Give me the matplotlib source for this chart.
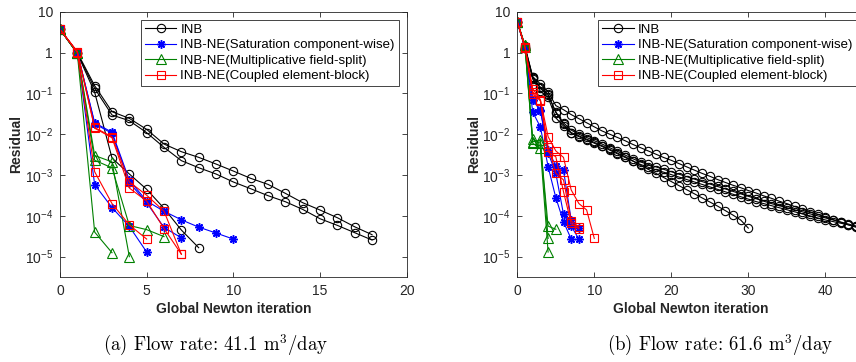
import matplotlib
matplotlib.use('Agg')
import matplotlib.pyplot as plt
from matplotlib.ticker import FuncFormatter, FixedLocator, NullLocator
import numpy as np

plt.rcParams['font.family'] = ['Liberation Sans', 'DejaVu Sans']
plt.rcParams['mathtext.fontset'] = 'custom'
plt.rcParams['mathtext.rm'] = 'Liberation Sans'
plt.rcParams['mathtext.it'] = 'Liberation Sans:italic'
plt.rcParams['mathtext.bf'] = 'Liberation Sans:bold'

labels = ['INB', 'INB-NE(Saturation component-wise)',
          'INB-NE(Multiplicative field-split)', 'INB-NE(Coupled element-block)']

# ---- (a) flow rate 41.1 m3/day : residual per global Newton iteration ----
inb_a = [
    [3.7, 1.0, 0.154, 0.0356, 0.0244, 0.0131, 0.00574, 0.00373, 0.00271, 0.00186,
     0.00125, 8.3e-4, 5.9e-4, 3.56e-4, 2.1e-4, 1.39e-4, 9.0e-5, 5.4e-5, 3.46e-5],
    [3.7, 0.97, 0.132, 0.0295, 0.0214, 0.0109, 0.00476, 0.00225, 0.00151, 0.00106,
     6.75e-4, 4.62e-4, 3.12e-4, 2.22e-4, 1.44e-4, 8.5e-5, 5.85e-5, 3.87e-5, 2.56e-5],
    [3.7, 0.95, 0.106, 0.00261, 0.00106, 4.46e-4, 1.53e-4, 4.5e-5, 1.66e-5],
]
sat_a = [
    [3.7, 1.0, 0.019, 0.0112, 7.5e-4, 2.3e-4, 1.3e-4, 8.0e-5, 5.3e-5, 3.8e-5, 2.7e-5],
    [3.7, 1.0, 5.8e-4, 1.6e-4, 5.5e-5, 1.3e-5],
    [3.7, 1.0, 0.018, 0.0105, 6.5e-4, 2.1e-4, 5.2e-5, 2.9e-5],
]
mfs_a = [
    [3.7, 1.0, 0.0030, 0.0021, 1.0e-5],
    [3.7, 0.95, 0.0023, 0.0015, 5.8e-5, 4.6e-5, 3.1e-5],
    [3.7, 0.95, 4.0e-5, 1.25e-5],
]
ceb_a = [
    [3.7, 1.05, 0.0146, 0.0086, 6.8e-4, 3.2e-4, 1.3e-4, 1.15e-5],
    [3.7, 1.05, 0.0140, 0.0082, 4.8e-4, 2.3e-4, 4.9e-5, 1.15e-5],
    [3.7, 1.0, 1.2e-3, 2.0e-4, 6.0e-5, 2.7e-5],
]

# ---- (b) flow rate 61.6 m3/day ----
# long INB runs read as log10(residual) from the log axis
inb_b_log = [
    [0.755, 0.15, -0.59, -0.77, -0.96, -1.30, -1.40, -1.52, -1.62, -1.72, -1.82,
     -1.92, -2.00, -2.08, -2.16, -2.25, -2.33, -2.41, -2.49, -2.57, -2.64, -2.72,
     -2.80, -2.88, -2.96, -3.03, -3.11, -3.18, -3.25, -3.31, -3.38, -3.44, -3.51,
     -3.57, -3.64, -3.70, -3.77, -3.83, -3.90, -3.96, -4.03, -4.09, -4.16, -4.22, -4.28],
    [0.755, 0.12, -0.62, -0.85, -1.02, -1.47, -1.72, -1.90, -2.00, -2.08, -2.16,
     -2.24, -2.33, -2.42, -2.51, -2.60, -2.68, -2.74, -2.80, -2.86, -2.92, -2.98,
     -3.04, -3.10, -3.16, -3.22, -3.28, -3.34, -3.40, -3.46, -3.52, -3.58, -3.64,
     -3.70, -3.75, -3.80, -3.85, -3.90, -3.95, -4.00, -4.05, -4.10, -4.15, -4.20, -4.25],
    [0.755, 0.10, -0.65, -0.95, -1.10, -1.60, -1.80, -1.98, -2.06, -2.14, -2.22,
     -2.30, -2.39, -2.48, -2.57, -2.66, -2.74, -2.81, -2.87, -2.93, -2.99, -3.05,
     -3.11, -3.17, -3.23, -3.29, -3.35, -3.41, -3.47, -3.53, -3.59, -3.65, -3.70,
     -3.75, -3.80, -3.85, -3.90, -3.95, -4.00, -4.05, -4.10, -4.14, -4.18, -4.22, -4.26],
    [0.755, 0.12, -0.60, -0.88, -1.05, -1.45, -1.76, -1.96, -2.04, -2.12, -2.20,
     -2.28, -2.37, -2.46, -2.55, -2.65, -2.76, -2.86, -2.96, -3.06, -3.16, -3.26,
     -3.36, -3.46, -3.56, -3.66, -3.76, -3.87, -3.98, -4.10, -4.30],
]
sat_b = [
    [5.7, 1.3, 0.035, 0.015, 0.0016, 2.8e-4, 7.2e-5, 2.7e-5],
    [5.7, 1.4, 0.07, 0.04, 0.0035, 0.0011, 1.1e-4, 5.6e-5, 2.7e-5],
    [5.7, 1.4, 0.068, 0.038, 0.004, 0.0017, 0.0013, 8.0e-5, 5.0e-5],
]
mfs_b = [
    [5.7, 1.5, 0.0075, 0.0060, 5.6e-5, 4.7e-5],
    [5.7, 1.5, 0.0065, 0.0072, 2.8e-5],
    [5.7, 1.4, 0.0060, 0.0045, 1.3e-5],
]
ceb_b = [
    [5.7, 1.4, 0.13, 0.07, 0.0087, 0.0039, 0.0027, 4.3e-4, 2.0e-4, 1.4e-4, 2.8e-5],
    [5.7, 1.4, 0.095, 0.068, 0.0049, 0.0011, 7.6e-4, 7.6e-5, 5.2e-5],
    [5.7, 1.3, 0.11, 0.065, 0.0037, 0.0028, 3.9e-4, 6.5e-5, 4.8e-5],
]

captions = [r'(a) Flow rate: 41.1 m$^3$/day', r'(b) Flow rate: 61.6 m$^3$/day']

styles = [
    dict(color='k', marker='o', ms=6, mfc='none', mew=0.8),
    dict(color='#0000ff', marker=(8, 2, 0), ms=6, mew=1.1),
    dict(color='#008000', marker='^', ms=6.5, mfc='none', mew=0.8),
    dict(color='#ff0000', marker='s', ms=5.5, mfc='none', mew=0.8),
]


def ytick(v, pos):
    e = int(round(np.log10(v)))
    if e == 1:
        return '10'
    if e == 0:
        return '1'
    return r'$10^{%d}$' % e


def draw(ax, groups, xmax, xticks):
    for k, group in enumerate(groups):
        for i, y in enumerate(group):
            x = np.arange(len(y))
            ax.plot(x, y, lw=0.8, label=labels[k] if i == 0 else None, **styles[k])
    ax.set_yscale('log')
    ax.set_xlim(0, xmax)
    ax.set_ylim(10 ** -5.49, 10)
    ax.set_xticks(xticks)
    ax.yaxis.set_major_locator(FixedLocator([1e-5, 1e-4, 1e-3, 1e-2, 1e-1, 1, 10]))
    ax.yaxis.set_minor_locator(NullLocator())
    ax.yaxis.set_major_formatter(FuncFormatter(ytick))
    ax.tick_params(direction='in', top=True, right=True, length=3.5, width=0.6,
                   labelsize=10, labelcolor='#262626', color='#262626', pad=5)
    for s in ax.spines.values():
        s.set_color('#262626')
        s.set_linewidth(0.6)
    ax.set_xlabel('Global Newton iteration', fontsize=10, fontweight='bold',
                  color='#262626', labelpad=3)
    ax.set_ylabel('Residual', fontsize=10, fontweight='bold', color='#262626', labelpad=1)
    leg = ax.legend(loc='upper right', fontsize=9.5, frameon=True, fancybox=False,
                    framealpha=1, edgecolor='#262626', handlelength=2.4,
                    labelspacing=0.25, borderpad=0.3, handletextpad=0.3,
                    borderaxespad=0.6)
    leg.get_frame().set_linewidth(0.6)


fig = plt.figure(figsize=(8.56, 3.62), dpi=100)
ax1 = fig.add_axes([60 / 856, 85.3 / 362, 346.7 / 856, 265 / 362])
ax2 = fig.add_axes([517.3 / 856, 85.3 / 362, 346.5 / 856, 265 / 362])

draw(ax1, [inb_a, sat_a, mfs_a, ceb_a], 20, [0, 5, 10, 15, 20])
inb_b = [[10 ** v for v in line] for line in inb_b_log]
draw(ax2, [inb_b, sat_b, mfs_b, ceb_b], 45, [0, 10, 20, 30, 40])

fig.text(215 / 856, 1 - 345 / 362, captions[0], ha='center', va='center',
         fontsize=13.5, family='cmr10', math_fontfamily='cm')
fig.text(720 / 856, 1 - 345 / 362, captions[1], ha='center', va='center',
         fontsize=13.5, family='cmr10', math_fontfamily='cm')

plt.savefig('out.png', dpi=100)
